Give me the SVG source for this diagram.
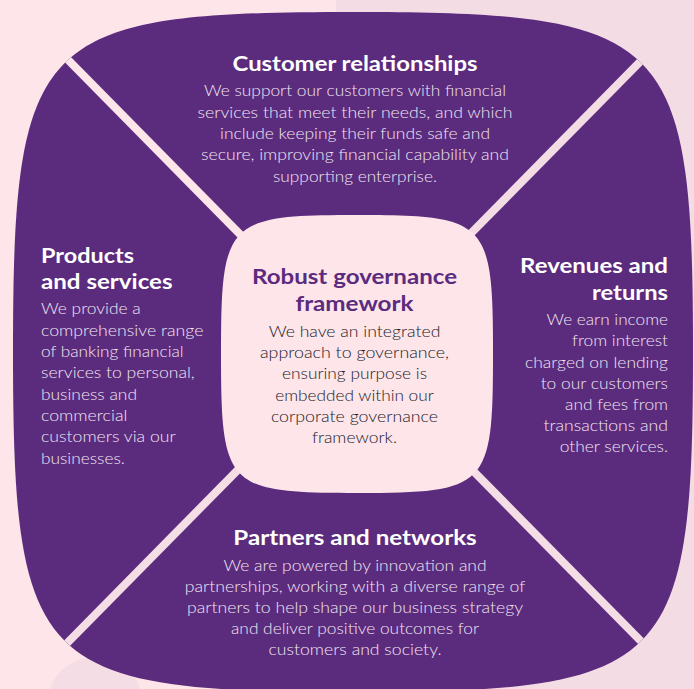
<svg xmlns="http://www.w3.org/2000/svg" width="694" height="689" viewBox="0 0 694 689">
<defs>
<clipPath id="outerClip"><path d="M353 12 C669.2 12 693 35.8 693 352 C693 668.2 669.2 692 353 692 C36.8 692 13 668.2 13 352 C13 35.8 36.8 12 353 12 Z"/></clipPath>
<style>
.t{font-family:Lato,"Open Sans","Liberation Sans",sans-serif;font-weight:700;font-size:21.5px;fill:#ffffff}
.b{font-family:Lato,"Open Sans","Liberation Sans",sans-serif;font-weight:300;font-size:15.5px;fill:#f1e5f0}
.ct{fill:#5b2b7f}
.cb{fill:#231b28}
.m{text-anchor:middle}
.e{text-anchor:end}
.gap{stroke-width:8;fill:none}
</style>
</defs>
<g id="background">
<rect x="0" y="0" width="694" height="689" fill="#fde5e9"/>
<rect x="336" y="0" width="358" height="689" fill="#f4dce5"/>
<circle cx="95" cy="705" r="48" fill="#f4dde5"/>
</g>
<g id="ring">
<path d="M353 12 C669.2 12 693 35.8 693 352 C693 668.2 669.2 692 353 692 C36.8 692 13 668.2 13 352 C13 35.8 36.8 12 353 12 Z" fill="#5b2b7e"/>
</g>
<g id="connectors" clip-path="url(#outerClip)">
<line class="gap" x1="355" y1="351" x2="15" y2="6" stroke="#fde5e9"/>
<line class="gap" x1="355" y1="351" x2="695" y2="6" stroke="#f4dce5"/>
<line class="gap" x1="355" y1="351" x2="15" y2="696" stroke="#f4dde5"/>
<line class="gap" x1="355" y1="351" x2="695" y2="696" stroke="#f4dde5"/>
</g>
<g id="node-customer">
<text class="t m" x="355" y="71" textLength="245" lengthAdjust="spacingAndGlyphs">Customer relationships</text>
<text class="b m" x="355" y="96" textLength="302" lengthAdjust="spacingAndGlyphs">We support our customers with financial</text>
<text class="b m" x="355" y="117.5" textLength="315" lengthAdjust="spacingAndGlyphs">services that meet their needs, and which</text>
<text class="b m" x="355" y="139" textLength="270" lengthAdjust="spacingAndGlyphs">include keeping their funds safe and</text>
<text class="b m" x="355" y="160" textLength="308" lengthAdjust="spacingAndGlyphs">secure, improving financial capability and</text>
<text class="b m" x="355" y="181.5" textLength="164" lengthAdjust="spacingAndGlyphs">supporting enterprise.</text>
</g>
<g id="node-products">
<text class="t" x="41" y="263" textLength="93" lengthAdjust="spacingAndGlyphs">Products</text>
<text class="t" x="41" y="288.5" textLength="131.6" lengthAdjust="spacingAndGlyphs">and services</text>
<text class="b" x="41" y="314" textLength="99.7" lengthAdjust="spacingAndGlyphs">We provide a</text>
<text class="b" x="41" y="335.5" textLength="162.5" lengthAdjust="spacingAndGlyphs">comprehensive range</text>
<text class="b" x="41" y="357" textLength="142.6" lengthAdjust="spacingAndGlyphs">of banking financial</text>
<text class="b" x="41" y="378" textLength="153.7" lengthAdjust="spacingAndGlyphs">services to personal,</text>
<text class="b" x="41" y="400" textLength="96" lengthAdjust="spacingAndGlyphs">business and</text>
<text class="b" x="41" y="421" textLength="86.4" lengthAdjust="spacingAndGlyphs">commercial</text>
<text class="b" x="41" y="442" textLength="134.7" lengthAdjust="spacingAndGlyphs">customers via our</text>
<text class="b" x="41" y="463.5" textLength="83.8" lengthAdjust="spacingAndGlyphs">businesses.</text>
</g>
<g id="node-revenues">
<text class="t e" x="668" y="273" textLength="148" lengthAdjust="spacingAndGlyphs">Revenues and</text>
<text class="t e" x="668" y="300" textLength="76" lengthAdjust="spacingAndGlyphs">returns</text>
<text class="b e" x="668" y="325" textLength="121.5" lengthAdjust="spacingAndGlyphs">We earn income</text>
<text class="b e" x="668" y="346" textLength="96" lengthAdjust="spacingAndGlyphs">from interest</text>
<text class="b e" x="668" y="367.5" textLength="143" lengthAdjust="spacingAndGlyphs">charged on lending</text>
<text class="b e" x="668" y="388.5" textLength="127.3" lengthAdjust="spacingAndGlyphs">to our customers</text>
<text class="b e" x="668" y="409.5" textLength="103" lengthAdjust="spacingAndGlyphs">and fees from</text>
<text class="b e" x="668" y="431" textLength="124.6" lengthAdjust="spacingAndGlyphs">transactions and</text>
<text class="b e" x="668" y="452" textLength="108.3" lengthAdjust="spacingAndGlyphs">other services.</text>
</g>
<g id="node-partners">
<text class="t m" x="355" y="545" textLength="243.4" lengthAdjust="spacingAndGlyphs">Partners and networks</text>
<text class="b m" x="355" y="570.5" textLength="263.2" lengthAdjust="spacingAndGlyphs">We are powered by innovation and</text>
<text class="b m" x="355" y="592" textLength="340.7" lengthAdjust="spacingAndGlyphs">partnerships, working with a diverse range of</text>
<text class="b m" x="355" y="613" textLength="336" lengthAdjust="spacingAndGlyphs">partners to help shape our business strategy</text>
<text class="b m" x="355" y="634" textLength="248" lengthAdjust="spacingAndGlyphs">and deliver positive outcomes for</text>
<text class="b m" x="355" y="655" textLength="173" lengthAdjust="spacingAndGlyphs">customers and society.</text>
</g>
<g id="node-governance">
<path d="M357 215 C487.6 215 493 220.6 493 354 C493 487.4 487.6 493 357 493 C226.4 493 221 487.4 221 354 C221 220.6 226.4 215 357 215 Z" fill="#fde5e9"/>
<text class="t ct m" x="354.5" y="284" textLength="205" lengthAdjust="spacingAndGlyphs">Robust governance</text>
<text class="t ct m" x="354.5" y="310.5" textLength="118" lengthAdjust="spacingAndGlyphs">framework</text>
<text class="b cb m" x="354.5" y="336.5" textLength="171.7" lengthAdjust="spacingAndGlyphs">We have an integrated</text>
<text class="b cb m" x="354.5" y="358" textLength="189" lengthAdjust="spacingAndGlyphs">approach to governance,</text>
<text class="b cb m" x="354.5" y="379" textLength="145" lengthAdjust="spacingAndGlyphs">ensuring purpose is</text>
<text class="b cb m" x="354.5" y="400.5" textLength="158.6" lengthAdjust="spacingAndGlyphs">embedded within our</text>
<text class="b cb m" x="354.5" y="422" textLength="167.2" lengthAdjust="spacingAndGlyphs">corporate governance</text>
<text class="b cb m" x="354.5" y="443" textLength="85" lengthAdjust="spacingAndGlyphs">framework.</text>
</g>
</svg>
